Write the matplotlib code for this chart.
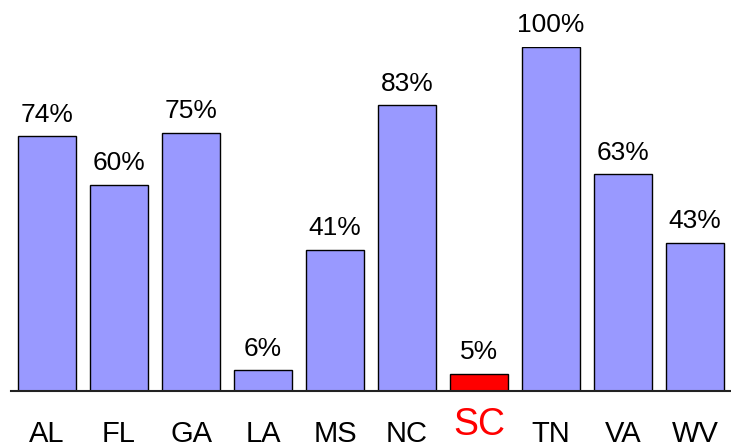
import matplotlib.pyplot as plt

# data
states = ['AL', 'FL', 'GA', 'LA', 'MS', 'NC', 'SC', 'TN', 'VA', 'WV']
percents = [74, 60, 75, 6, 41, 83, 5, 100, 63, 43]
highlight = 'SC'

plt.rcParams['font.family'] = ['Liberation Sans', 'DejaVu Sans']

fig = plt.figure(figsize=(7.31, 4.46), dpi=100)
ax = fig.add_axes([11 / 731, 55 / 446, 720 / 731, 344 / 446])

colors = ['#ff0000' if s == highlight else '#9999ff' for s in states]
x = list(range(len(states)))
ax.bar(x, percents, width=0.8, color=colors, edgecolor='black', linewidth=1.0)

# value labels above bars
for i, p in enumerate(percents):
    ax.annotate(f'{p}%', xy=(i, p), xytext=(0, 10.5), textcoords='offset points',
                ha='center', va='baseline', fontsize=19, color='black')

# category labels under the baseline
for i, s in enumerate(states):
    if s == highlight:
        ax.annotate(s, xy=(i, 0), xycoords=('data', 'axes fraction'),
                    xytext=(0, -31.5), textcoords='offset points',
                    ha='center', va='baseline', fontsize=27, color='#ff0000')
    else:
        ax.annotate(s, xy=(i, 0), xycoords=('data', 'axes fraction'),
                    xytext=(0, -36.5), textcoords='offset points',
                    ha='center', va='baseline', fontsize=21, color='black')

ax.set_xlim(-0.5, len(states) - 0.5)
ax.set_ylim(0, 100)
ax.set_xticks([])
ax.set_yticks([])
for side in ['top', 'left', 'right']:
    ax.spines[side].set_visible(False)
ax.spines['bottom'].set_linewidth(1.5)
ax.spines['bottom'].set_color('#222222')

fig.savefig('out.png', dpi=100)
